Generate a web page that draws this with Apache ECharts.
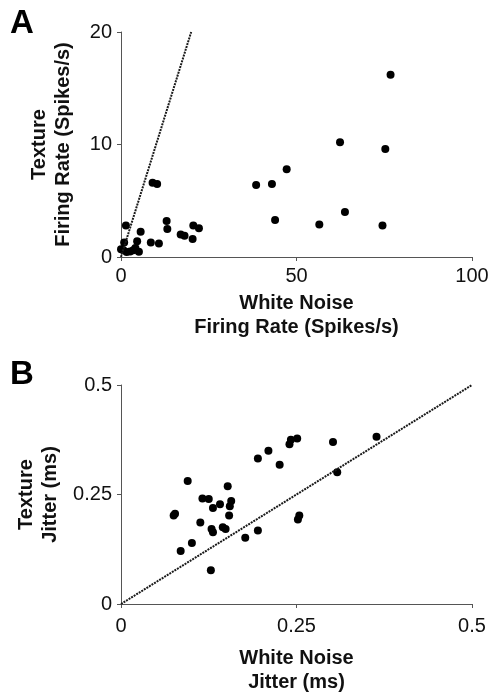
<!DOCTYPE html>
<html>
<head>
<meta charset="utf-8">
<script src="https://cdn.jsdelivr.net/npm/echarts@6/dist/echarts.min.js"></script>
<style>
  html, body { margin: 0; padding: 0; background: #fff; }
  #chart { width: 494px; height: 695px; }
</style>
</head>
<body>
<div id="chart"></div>
<script>
// --- panel A: firing rate (spikes/s) ---
const rateWhite = [76.8, 62.4, 75.3, 47.2, 63.8, 56.5, 74.5, 38.5, 43.0, 43.9,
  9.0, 10.3, 1.4, 13.0, 13.2, 5.6, 17.0, 18.1, 20.6, 22.2, 20.4,
  8.5, 10.8, 0.9, 4.6, 0.0, 0.7, 1.6, 2.6, 3.5, 4.1, 5.1];
const rateTexture = [16.2, 10.2, 9.6, 7.8, 4.0, 2.9, 2.8, 6.4, 6.5, 3.3,
  6.6, 6.5, 2.8, 3.2, 2.5, 2.25, 2.0, 1.9, 2.8, 2.55, 1.6,
  1.3, 1.2, 1.3, 1.4, 0.7, 0.6, 0.45, 0.5, 0.6, 0.8, 0.47];
const rateUnity = [[0, 0], [20, 20]];

// --- panel B: jitter (ms) ---
const jitterWhite = [0.075, 0.077, 0.085, 0.095, 0.101, 0.113, 0.116, 0.125, 0.128, 0.129,
  0.131, 0.131, 0.141, 0.145, 0.149, 0.152, 0.154, 0.155, 0.157, 0.177,
  0.195, 0.195, 0.210, 0.226, 0.240, 0.242, 0.251, 0.252, 0.254, 0.302,
  0.308, 0.364];
const jitterTexture = [0.202, 0.206, 0.121, 0.281, 0.139, 0.186, 0.241, 0.240, 0.077, 0.171,
  0.164, 0.219, 0.228, 0.175, 0.171, 0.269, 0.202, 0.223, 0.235, 0.151,
  0.168, 0.332, 0.350, 0.318, 0.365, 0.375, 0.378, 0.193, 0.202, 0.370,
  0.301, 0.382];
const jitterUnity = [[0, 0], [0.5, 0.5]];

const AXIS = '#555';
const FONT = 'Liberation Sans, Arial, sans-serif';

const zip = (xs, ys) => xs.map((x, i) => [x, ys[i]]);

const axisBase = (min, max, interval) => ({
  type: 'value',
  min, max, interval,
  axisLine: { show: true, lineStyle: { color: AXIS, width: 1 } },
  axisTick: { show: true, length: 4, lineStyle: { color: AXIS } },
  splitLine: { show: false },
  axisLabel: { color: '#111', fontSize: 20, fontFamily: FONT, margin: 9 },
  nameLocation: 'middle',
  nameTextStyle: { color: '#111', fontSize: 20, fontWeight: 'bold', fontFamily: FONT, lineHeight: 24 }
});

const myChart = echarts.init(document.getElementById('chart'));

const xB = axisBase(0, 0.5, 0.25);
xB.axisLabel.margin = 12;

// 散点全黑，不透明
const dotStyle = { color: '#000', opacity: 1 };
const unityStyle = { color: '#1a1a1a', width: 2, type: [2, 1] };

myChart.setOption({
  backgroundColor: '#fff',
  animation: false,
  grid: [
    { left: 121, top: 32, width: 351, height: 225 },
    { left: 121, top: 385, width: 351, height: 224 }
  ],
  xAxis: [
    Object.assign(axisBase(0, 100, 50), { gridIndex: 0, name: 'White Noise\nFiring Rate (Spikes/s)', nameGap: 34 }),
    Object.assign(xB, { gridIndex: 1, name: 'White Noise\nJitter (ms)', nameGap: 42 })
  ],
  yAxis: [
    Object.assign(axisBase(0, 20, 10), { gridIndex: 0, name: 'Texture\nFiring Rate (Spikes/s)', nameGap: 46 }),
    Object.assign(axisBase(0, 0.5, 0.25), { gridIndex: 1, name: 'Texture\nJitter (ms)', nameGap: 59 })
  ],
  graphic: [
    { type: 'text', left: 10, top: 7, style: { text: 'A', fontSize: 33, fontWeight: 'bold', fontFamily: FONT, fill: '#000' } },
    { type: 'text', left: 10, top: 358, style: { text: 'B', fontSize: 33, fontWeight: 'bold', fontFamily: FONT, fill: '#000' } }
  ],
  series: [
    {
      type: 'line', xAxisIndex: 0, yAxisIndex: 0,
      data: rateUnity, showSymbol: false, silent: true,
      lineStyle: unityStyle
    },
    {
      type: 'scatter', xAxisIndex: 0, yAxisIndex: 0,
      data: zip(rateWhite, rateTexture), clip: false,
      symbolSize: 8, itemStyle: dotStyle
    },
    {
      type: 'line', xAxisIndex: 1, yAxisIndex: 1,
      data: jitterUnity, showSymbol: false, silent: true,
      lineStyle: unityStyle
    },
    {
      type: 'scatter', xAxisIndex: 1, yAxisIndex: 1,
      data: zip(jitterWhite, jitterTexture), clip: false,
      symbolSize: 8, itemStyle: dotStyle
    }
  ]
});
</script>
</body>
</html>
